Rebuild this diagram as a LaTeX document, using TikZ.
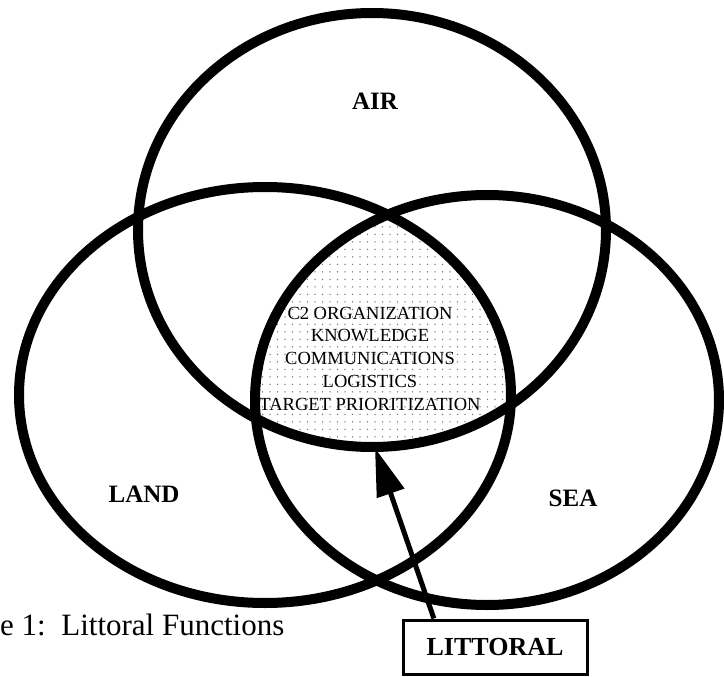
\documentclass[tikz,border=0pt]{standalone}
\usepackage{fontspec}
\setmainfont{Liberation Serif}
\usetikzlibrary{arrows.meta,patterns.meta}
\begin{document}
\begin{tikzpicture}[x=1pt,y=-1pt]
      \tikzset{ring/.style={draw, line width=10pt},
               region/.style={inner sep=0pt, anchor=base, font=\fontsize{25}{30}\selectfont\bfseries},
               func/.style={inner sep=0pt, anchor=base, font=\fontsize{18.5}{22}\selectfont}}
      \useasboundingbox (0,0) rectangle (724,677);
%% Centres
      	\coordinate (air) at (372,230);
      	\coordinate (land) at (265,395);
      	\coordinate (sea) at (487,400);
%% Shaded core
      \begin{scope}
      	\clip (air) ellipse [x radius=234pt, y radius=217pt];
      	\clip (land) ellipse [x radius=246pt, y radius=208pt];
      	\fill[pattern={Dots[distance=7.5pt, radius=0.75pt]}, pattern color=black!55] (sea) ellipse [x radius=232pt, y radius=205pt];
      \end{scope}
%% Functions
      \foreach \txt [count=\i] in {C2 ORGANIZATION, KNOWLEDGE, COMMUNICATIONS, LOGISTICS, TARGET PRIORITIZATION}
      	\node[func] (f\i) at (370,296.25+22.75*\i) {\txt};
%% Rings
      	\draw[ring] (air) ellipse [x radius=234pt, y radius=217pt];
      	\draw[ring] (land) ellipse [x radius=246pt, y radius=208pt];
      	\draw[ring] (sea) ellipse [x radius=232pt, y radius=205pt];
%Labels
		\node[region] (airlbl) at (375,110) {AIR};
		\node[region] (landlbl) at (144,502) {LAND};
		\node[region] (sealbl) at (573,506) {SEA};
		\node[draw, line width=3pt, minimum width=184pt, minimum height=54pt, font=\fontsize{26}{30}\selectfont\bfseries] (littoral) at (495,647) {LITTORAL};
		\coordinate (tip) at (375,448);
		\draw[line width=5pt, -{Triangle[length=48pt, width=28pt]}] (littoral.155) -- (tip);
		\node[inner sep=0pt, anchor=base west, font=\fontsize{31}{36}\selectfont] (caption) at (0,635) {e 1:\ \ Littoral Functions};
	\end{tikzpicture}
\end{document}
